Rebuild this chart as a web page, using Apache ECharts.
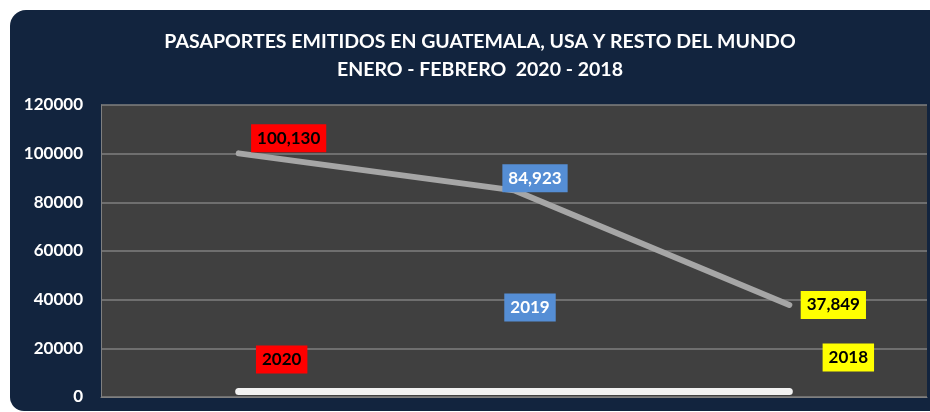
<!DOCTYPE html>
<html>
<head>
<meta charset="utf-8">
<script src="https://cdn.jsdelivr.net/npm/echarts@6/dist/echarts.min.js"></script>
<style>
  html, body { margin: 0; padding: 0; background: #ffffff; }
  #chart { width: 930px; height: 412px; }
</style>
</head>
<body>
<div id="chart"></div>
<script>
// data
const years = ['2020', '2019', '2018'];
const passports = [100130, 84923, 37849];
const baseLine = [2300, 2300, 2300];
const yTicks = [0, 20000, 40000, 60000, 80000, 100000, 120000];

const chart = echarts.init(document.getElementById('chart'), null, { renderer: 'canvas' });

const font = 'Lato, "Open Sans", sans-serif';

// label boxes, one per year
const valueLabels = [
    { bg: '#ff0000', color: '#000000', offset: [50, -15] },
    { bg: '#558ed5', color: '#ffffff', offset: [21, -12] },
    { bg: '#ffff00', color: '#000000', offset: [44, 0] }
];
const yearLabels = [
    { bg: '#ff0000', color: '#000000', offset: [43, -32] },
    { bg: '#558ed5', color: '#ffffff', offset: [16, -84] },
    { bg: '#ffff00', color: '#000000', offset: [59, -34] }
];

const labelOf = (s) => ({
    show: true,
    position: 'inside',
    offset: s.offset,
    backgroundColor: s.bg,
    color: s.color,
    fontFamily: font,
    fontWeight: 'bold',
    fontSize: 17,
    padding: [6, 6, 5, 6]
});

const option = {
    backgroundColor: '#ffffff',
    animation: false,
    graphic: [
        {
            type: 'rect',
            z: -10,
            silent: true,
            shape: { x: 10, y: 10, width: 940, height: 401, r: [16, 0, 0, 14] },
            style: { fill: '#12243e' }
        },
        {
            type: 'text',
            x: 480,
            y: 28,
            style: {
                text: 'PASAPORTES EMITIDOS EN GUATEMALA, USA Y RESTO DEL MUNDO\nENERO - FEBRERO  2020 - 2018',
                fill: '#ffffff',
                font: 'bold 19.5px ' + font,
                align: 'center',
                lineHeight: 28
            }
        }
    ],
    grid: {
        left: 101,
        right: 3,
        top: 105,
        bottom: 15,
        show: true,
        backgroundColor: '#404040',
        borderWidth: 0
    },
    xAxis: {
        type: 'category',
        data: years,
        boundaryGap: true,
        axisLine: { show: true, lineStyle: { color: '#808080', width: 1 } },
        axisTick: { show: false },
        axisLabel: { show: false }
    },
    yAxis: {
        type: 'value',
        min: yTicks[0],
        max: yTicks[yTicks.length - 1],
        interval: yTicks[1] - yTicks[0],
        axisLine: { show: true, lineStyle: { color: '#808080', width: 1 } },
        axisTick: { show: false },
        axisLabel: {
            color: '#ffffff',
            fontFamily: font,
            fontWeight: 'bold',
            fontSize: 17,
            margin: 18,
            formatter: (v) => String(v)
        },
        splitLine: { lineStyle: { color: '#7f7f7f', width: 1.5 } }
    },
    series: [
        {
            name: 'Pasaportes',
            type: 'line',
            data: passports.map((v, i) => ({ value: v, label: labelOf(valueLabels[i]) })),
            symbol: 'circle',
            symbolSize: 1,
            itemStyle: { color: '#a6a6a6' },
            lineStyle: { color: '#a6a6a6', width: 6, cap: 'round', join: 'round' },
            label: {
                show: true,
                formatter: (p) => p.value.toLocaleString('en-US')
            },
            z: 3
        },
        {
            name: 'Año',
            type: 'line',
            data: baseLine.map((v, i) => ({ value: v, label: labelOf(yearLabels[i]) })),
            symbol: 'circle',
            symbolSize: 1,
            itemStyle: { color: '#f2f2f2' },
            lineStyle: { color: '#f2f2f2', width: 7, cap: 'round' },
            label: { show: true, formatter: '{b}' },
            z: 2
        }
    ]
};

chart.setOption(option);
</script>
</body>
</html>
